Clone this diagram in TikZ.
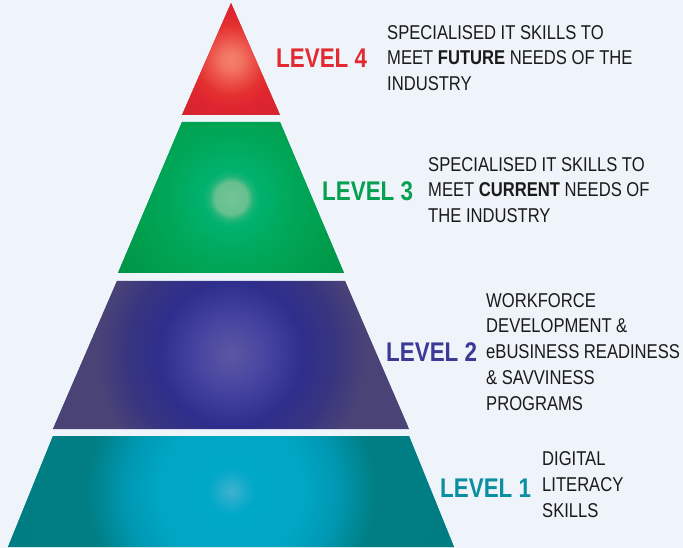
\documentclass[tikz,border=0pt]{standalone}
\usepackage{fontspec}
\newfontfamily\pyrfont[FakeStretch=0.83]{Liberation Sans}
\definecolor{bg}{HTML}{EEF4FA}
\definecolor{txt}{HTML}{1A1A1A}
\definecolor{lvfourtxt}{HTML}{E32A32}
\definecolor{lvthreetxt}{HTML}{05A050}
\definecolor{lvtwotxt}{HTML}{3B3A96}
\definecolor{lvonetxt}{HTML}{0A8FA2}
\definecolor{rA}{HTML}{F4806A}\definecolor{rB}{HTML}{F27462}\definecolor{rC}{HTML}{EC5048}
\definecolor{rD}{HTML}{E4302F}\definecolor{rE}{HTML}{DE2530}\definecolor{rF}{HTML}{D02530}
\definecolor{gA}{HTML}{72C498}\definecolor{gB}{HTML}{68C08E}\definecolor{gC}{HTML}{1DB478}
\definecolor{gD}{HTML}{00B26E}\definecolor{gE}{HTML}{00A85A}\definecolor{gF}{HTML}{009E4C}
\definecolor{gG}{HTML}{009248}
\definecolor{pA}{HTML}{5C58A4}\definecolor{pB}{HTML}{4644A0}\definecolor{pC}{HTML}{2E2E8C}
\definecolor{pD}{HTML}{383580}\definecolor{pE}{HTML}{4A4476}
\definecolor{tA}{HTML}{40B2CE}\definecolor{tB}{HTML}{10AACA}\definecolor{tC}{HTML}{00A8C8}
\definecolor{tD}{HTML}{00A6C4}\definecolor{tE}{HTML}{0098B2}\definecolor{tF}{HTML}{007E84}
\definecolor{tG}{HTML}{007B80}
% in a shaded circle of radius r, 25bp corresponds to r
\pgfdeclareradialshading{lvfour}{\pgfpoint{0bp}{0bp}}{color(0bp)=(rA); color(3bp)=(rB); color(7bp)=(rC); color(11bp)=(rD); color(15bp)=(rE); color(25bp)=(rF); color(50bp)=(rF)}
\pgfdeclareradialshading{lvthree}{\pgfpoint{0bp}{0bp}}{color(0bp)=(gA); color(2bp)=(gB); color(2.75bp)=(gC); color(3.5bp)=(gD); color(7.5bp)=(gE); color(12.5bp)=(gF); color(17.5bp)=(gG); color(50bp)=(gG)}
\pgfdeclareradialshading{lvtwo}{\pgfpoint{0bp}{0bp}}{color(0bp)=(pA); color(4.5bp)=(pB); color(9bp)=(pC); color(13bp)=(pD); color(17bp)=(pE); color(50bp)=(pE)}
\pgfdeclareradialshading{lvone}{\pgfpoint{0bp}{0bp}}{color(0bp)=(tA); color(1.75bp)=(tB); color(2.5bp)=(tC); color(7.5bp)=(tD); color(11bp)=(tE); color(15bp)=(tF); color(50bp)=(tG)}
\tikzset{
  lvl/.style={inner sep=0pt, anchor=base west, font=\pyrfont\bfseries\fontsize{27pt}{30pt}\selectfont},
  desc/.style={inner sep=0pt, anchor=base west, align=left, text=txt, font=\pyrfont\fontsize{20pt}{25.7pt}\selectfont}
}
\begin{document}
\begin{tikzpicture}[x=1pt,y=-1pt]
\useasboundingbox (0,0) rectangle (683,548);
\fill[bg] (0,0) rectangle (683,548);
% level 4
\begin{scope}
\clip (231,3) -- (280,115) -- (182,115) -- cycle;
\fill[rF] (182,3) rectangle (280,115);
\shade[shading=lvfour] (231,60) circle (80pt);
\end{scope}
% level 3
\begin{scope}
\clip (182,122) -- (280,122) -- (344,273) -- (118,273) -- cycle;
\fill[gG] (118,122) rectangle (344,273);
\shade[shading=lvthree] (231,198) circle (200pt);
\end{scope}
% level 2
\begin{scope}
\clip (117,281) -- (345,281) -- (409,429) -- (53,429) -- cycle;
\fill[pE] (53,281) rectangle (409,429);
\shade[shading=lvtwo] (231,354) circle (200pt);
\end{scope}
% level 1
\begin{scope}
\clip (53,436) -- (409,436) -- (454,547) -- (8,547) -- cycle;
\fill[tG] (8,436) rectangle (454,547);
\shade[shading=lvone] (231,491) circle (240pt);
\end{scope}
% labels (multi-line nodes: base = baseline of last line)
\node[lvl, text=lvfourtxt] (lv4) at (276,68) {LEVEL 4};
\node[desc] (d4) at (387,90.7) {SPECIALISED IT SKILLS TO\\MEET \textbf{FUTURE} NEEDS OF THE\\INDUSTRY};
\node[lvl, text=lvthreetxt] (lv3) at (322,200.7) {LEVEL 3};
\node[desc] (d3) at (428,222.7) {SPECIALISED IT SKILLS TO\\MEET \textbf{CURRENT} NEEDS OF\\THE INDUSTRY};
\node[lvl, text=lvtwotxt] (lv2) at (386,361) {LEVEL 2};
\node[desc] (d2) at (486,410) {WORKFORCE\\DEVELOPMENT \&\\eBUSINESS READINESS\\\& SAVVINESS\\PROGRAMS};
\node[lvl, text=lvonetxt] (lv1) at (440,497.7) {LEVEL 1};
\node[desc] (d1) at (542,517) {DIGITAL\\LITERACY\\SKILLS};
\end{tikzpicture}
\end{document}
